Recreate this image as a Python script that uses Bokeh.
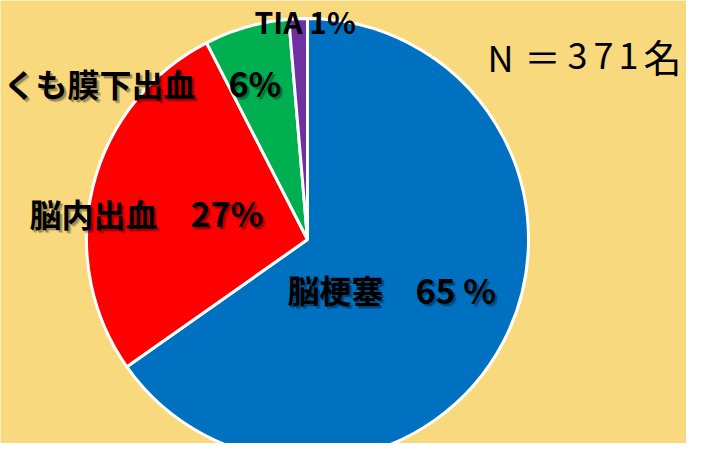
import numpy as np
from bokeh.plotting import figure
from bokeh.models import Range1d, ColumnDataSource
from bokeh.core.properties import value
from bokeh.embed import file_html
from bokeh.resources import INLINE

# ---- data ----
categories = ["脳梗塞", "脳内出血", "くも膜下出血", "TIA"]
counts = [242, 101, 23, 5]
percent_labels = ["65 %", "27%", "6%", "1%"]
colors = ["#0070C0", "#FF0000", "#00B050", "#7030A0"]
total_label = "N＝371名"

# ---- layout (pixel coordinates from top-left) ----
W, H = 686, 443
BG = "#F9D97E"
CX, CY, R = 307, 239, 221
FONT = "Noto Sans CJK JP"


def Y(py):
    return -py


p = figure(width=W, height=H, output_backend="svg", toolbar_location=None,
           x_range=Range1d(0, W), y_range=Range1d(-H, 0),
           x_axis_type=None, y_axis_type=None, min_border=0)
p.grid.visible = False
p.outline_line_color = None
p.background_fill_color = BG
p.border_fill_color = BG

vals = np.array(counts, dtype=float)
cum = np.concatenate([[0], np.cumsum(vals)])
total = vals.sum()
start = np.pi / 2 - 2 * np.pi * cum[:-1] / total
end = np.pi / 2 - 2 * np.pi * cum[1:] / total

src = ColumnDataSource(dict(start=start, end=end, color=colors, cat=categories))
p.wedge(x=CX, y=Y(CY), radius=R, start_angle="start", end_angle="end",
        direction="clock", fill_color="color", line_color="white", line_width=3,
        source=src)

# label layout: (text, x, y, align, size)
label_layout = [
    (categories[0], 287, 288, "left", 32),
    (percent_labels[0], 415, 289, "left", 34),
    (categories[1], 29, 212, "left", 32),
    (percent_labels[1], 190, 212, "left", 34),
    (categories[2], 195, 82, "right", 32),
    (percent_labels[2], 228, 82, "left", 34),
]


def shadow_text(txt, x, y, align, size, bold=True, font=FONT):
    style = "bold" if bold else "normal"
    for off, a in [(3, 0.18), (2, 0.25)]:
        p.text(x=[x], y=[Y(y)], text=[txt], x_offset=off, y_offset=off,
               text_font=value(font), text_font_size=f"{size}px",
               text_font_style=style, text_color="black", text_alpha=a,
               text_align=align, text_baseline="middle")
    p.text(x=[x], y=[Y(y)], text=[txt], text_font=value(font),
           text_font_size=f"{size}px", text_font_style=style,
           text_color="black", text_align=align, text_baseline="middle")


for txt, x, y, align, size in label_layout:
    shadow_text(txt, x, y, align, size)

# TIA label
p.text(x=[254], y=[Y(20)], text=[categories[3] + " " + percent_labels[3]],
       text_font=value(FONT), text_font_size="30px", text_font_style="bold",
       text_color="black", text_align="left", text_baseline="middle")

# N label, placed character by character (shifted left to fit the canvas)
n_centers = [500, 542, 577, 603, 628, 662]
n_sizes = [36, 36, 36, 36, 36, 38]
for ch, x, s in zip(total_label, n_centers, n_sizes):
    p.text(x=[x], y=[Y(55)], text=[ch], text_font=value(FONT),
           text_font_size=f"{s}px", text_color="black", text_align="center",
           text_baseline="middle")

open("out.html", "w").write(file_html(p, INLINE))
